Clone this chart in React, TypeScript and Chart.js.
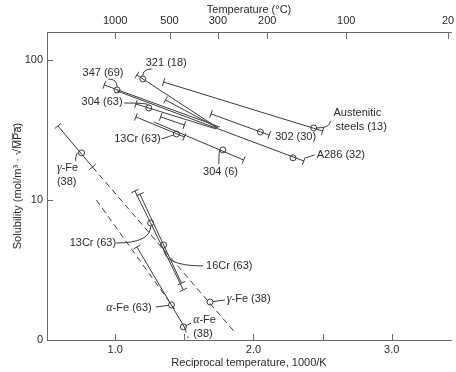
import React, { useEffect, useRef } from "react";
import { Chart, registerables } from "chart.js";

Chart.register(...registerables);

const FONT = "'Liberation Sans', Arial, sans-serif";
const INK = "#3a3a3a";
const AXIS = "#6a6a6a";

// ---------- data (x = reciprocal temperature 1000/K, y = solubility) ----------
const seriesNames = [
  "321 (18)", "Austenitic steels (13)", "347 (69)", "A286 (32)", "304 (63)",
  "304 (63) branch", "302 (30)", "304 (6)", "short range", "13Cr (63)",
  "γ-Fe (38)", "γ-Fe (38) extrapolated", "α-Fe (63)", "α-Fe (38)",
  "α-Fe (38) extrapolated", "13Cr (63) low", "16Cr (63)",
];
const startX = [1.157, 1.35, 0.921, 1.014, 1.15, 1.364, 1.693, 1.279, 1.329, 1.15, 0.586, 0.836, 0.864, 1.157, 1.5, 1.143, 1.179];
const startY = [78.1, 69.6, 66.3, 60.1, 48.5, 51.8, 41.2, 36.1, 39.2, 39.2, 33.8, 17.2, 10.0, 4.62, 1.24, 11.6, 11.0];
const endX = [1.743, 2.5, 1.757, 2.364, 1.729, 1.743, 2.114, 1.929, 1.5, 1.5, 0.836, 1.864, 1.429, 1.5, 1.529, 1.493, 1.479];
const endY = [32.7, 31.1, 33.2, 19.0, 32.2, 32.7, 29.1, 19.3, 34.3, 28.2, 17.2, 1.14, 1.67, 1.24, 1.03, 2.28, 2.55];

const markerX = [1.2, 2.436, 1.014, 1.243, 2.05, 2.286, 1.779, 1.443, 0.757, 1.686, 1.257, 1.35, 1.407, 1.493];
const markerY = [73.2, 32.7, 61.1, 45.4, 30.6, 20.0, 22.8, 29.6, 21.7, 1.87, 6.85, 4.77, 1.78, 1.24];

const xTickValues = [1, 1.5, 2, 2.5, 3];
const xTickLabels = ["1.0", "", "2.0", "", "3.0"];
const tempTickValues = [1.0, 1.393, 1.743, 2.1, 2.671, 3.407];
const tempTickLabels = ["1000", "500", "300", "200", "100", "20"];
const yTickValues = [1, 10, 100];
const yTickLabels = ["0", "10", "100"];

// ---------- styles ----------
const dashed = [false, false, false, false, false, false, false, false, false, false, false, true, true, false, true, false, false];
const capStart = [true, true, true, false, true, true, true, false, true, true, true, false, false, true, false, true, true];
const capEnd = [false, true, false, true, false, false, true, true, true, true, true, false, false, false, false, true, true];

// ---------- annotations (positions in data units) ----------
const labelLines = [
  ["321 (18)"], ["347 (69)"], ["304 (63)"], ["13Cr (63)"], ["304 (6)"], ["302 (30)"],
  ["A286 (32)"], ["Austenitic", "steels (13)"], ["γ-Fe", "(38)"], ["13Cr (63)"],
  ["16Cr (63)"], ["α-Fe (63)"], ["α-Fe", "(38)"], ["γ-Fe (38)"],
];
const labelX = [1.221, 0.764, 0.757, 0.993, 1.636, 2.157, 2.457, 2.579, 0.579, 0.671, 1.657, 0.936, 1.564, 1.807];
const labelY = [95.2, 80.8, 50.1, 27.3, 15.85, 28.2, 20.97, 41.8, 16.9, 4.93, 3.38, 1.693, 1.39, 1.96];

const leaderX1 = [1.264, 0.95, 1.064, 1.336, 1.75, 2.443, 2.557, 0.714, 1.007, 1.636, 1.293, 1.55, 1.793];
const leaderY1 = [86.3, 73.2, 49.3, 27.3, 18.1, 21.0, 36.7, 19.0, 4.93, 3.38, 1.72, 1.32, 1.93];
const leaderX2 = [1.2, 1.014, 1.243, 1.443, 1.779, 2.379, 2.436, 0.757, 1.257, 1.35, 1.407, 1.493, 1.686];
const leaderY2 = [73.2, 61.1, 45.4, 29.6, 22.8, 20.0, 32.7, 21.7, 6.85, 4.77, 1.78, 1.24, 1.87];
const leaderBend = [0, 0, 0, 2, 1, 2, 1, 1, 0, 0, 2, 2, 2];
const leaderToMarker = [true, true, true, true, true, false, true, true, true, true, true, true, true];

const overlay = {
  id: "overlay",
  afterDatasetsDraw(chart: any) {
    const { ctx, chartArea, scales } = chart;
    const px = (v: number) => scales.x.getPixelForValue(v);
    const py = (v: number) => scales.y.getPixelForValue(v);
    ctx.save();
    ctx.strokeStyle = INK;
    ctx.lineWidth = 1;
    ctx.setLineDash([]);

    // end caps
    for (let i = 0; i < startX.length; i++) {
      const x1 = px(startX[i]), y1 = py(startY[i]), x2 = px(endX[i]), y2 = py(endY[i]);
      const L = Math.hypot(x2 - x1, y2 - y1) || 1;
      const nx = -(y2 - y1) / L, ny = (x2 - x1) / L;
      const h = 4;
      ctx.beginPath();
      if (capStart[i]) { ctx.moveTo(x1 - nx * h, y1 - ny * h); ctx.lineTo(x1 + nx * h, y1 + ny * h); }
      if (capEnd[i]) { ctx.moveTo(x2 - nx * h, y2 - ny * h); ctx.lineTo(x2 + nx * h, y2 + ny * h); }
      ctx.stroke();
    }

    // inward tick marks
    ctx.strokeStyle = AXIS;
    ctx.beginPath();
    xTickValues.forEach((v) => { const x = Math.round(px(v)) + 0.5; ctx.moveTo(x, chartArea.bottom); ctx.lineTo(x, chartArea.bottom - 6); });
    tempTickValues.forEach((v) => { const x = Math.round(px(v)) + 0.5; ctx.moveTo(x, chartArea.top); ctx.lineTo(x, chartArea.top + 7); });
    yTickValues.forEach((v) => { const y = Math.round(py(v)) + 0.5; ctx.moveTo(chartArea.left, y); ctx.lineTo(chartArea.left + 6, y); });
    ctx.stroke();

    // leaders
    ctx.strokeStyle = INK;
    for (let i = 0; i < leaderX1.length; i++) {
      const ax = px(leaderX1[i]), ay = py(leaderY1[i]);
      let bx = px(leaderX2[i]), by = py(leaderY2[i]);
      let cx = bx, cy = ay;
      if (leaderBend[i] === 1) { cx = ax; cy = by; }
      if (leaderBend[i] === 2) { cx = (ax + bx) / 2; cy = (ay + by) / 2; }
      if (leaderToMarker[i]) {
        const L = Math.hypot(bx - cx, by - cy) || 1;
        bx -= ((bx - cx) / L) * 3;
        by -= ((by - cy) / L) * 3;
      }
      ctx.beginPath();
      ctx.moveTo(ax, ay);
      ctx.quadraticCurveTo(cx, cy, bx, by);
      ctx.stroke();
    }

    // labels
    ctx.fillStyle = "#2a2a2a";
    ctx.textBaseline = "middle";
    ctx.textAlign = "left";
    labelLines.forEach((lines, i) => {
      const x0 = px(labelX[i]);
      const y0 = py(labelY[i]);
      lines.forEach((t, k) => {
        const y = y0 + k * 13.5;
        let x = x0 + (k > 0 && lines[0].length > 5 ? 2 : 0);
        if (t.startsWith("α") || t.startsWith("γ")) {
          ctx.font = "italic 12px 'Liberation Serif', serif";
          ctx.fillText(t[0], x, y);
          x += ctx.measureText(t[0]).width;
          ctx.font = `11px ${FONT}`;
          ctx.fillText(t.slice(1), x, y);
        } else {
          ctx.font = `11px ${FONT}`;
          ctx.fillText(t, x, y);
        }
      });
    });
    ctx.restore();
  },
};

const noPad = (s: any) => {
  s.paddingLeft = 0;
  s.paddingRight = 0;
  s.paddingTop = 0;
  s.paddingBottom = 0;
};

export default function App() {
  const ref = useRef<HTMLCanvasElement>(null);
  useEffect(() => {
    if (!ref.current) return;
    const datasets: any[] = [
      {
        label: "markers",
        data: markerX.map((x, i) => ({ x, y: markerY[i] })),
        showLine: false,
        pointStyle: "circle",
        pointRadius: 3,
        pointBorderWidth: 1,
        pointBorderColor: INK,
        pointBackgroundColor: "rgba(255,255,255,0)",
      },
      ...seriesNames.map((name, i) => ({
        label: name,
        data: [
          { x: startX[i], y: startY[i] },
          { x: endX[i], y: endY[i] },
        ],
        showLine: true,
        borderColor: INK,
        borderWidth: 1,
        borderDash: dashed[i] ? [6, 4] : [],
        pointRadius: 0,
      })),
    ];
    const tickFont = { family: FONT, size: 11 };
    const chart = new Chart(ref.current, {
      type: "scatter",
      data: { datasets },
      options: {
        responsive: false,
        animation: false,
        devicePixelRatio: 1,
        layout: { padding: 0 },
        plugins: { legend: { display: false }, tooltip: { enabled: false } },
        scales: {
          x: {
            type: "linear",
            position: "bottom",
            min: 0.507,
            max: 3.4286,
            afterFit: (s: any) => { s.height = 32; noPad(s); },
            afterBuildTicks: (s: any) => { s.ticks = xTickValues.map((v) => ({ value: v })); },
            ticks: {
              autoSkip: false,
              maxRotation: 0,
              padding: 3,
              color: "#2a2a2a",
              font: tickFont,
              callback: (_v: any, i: number) => xTickLabels[i],
            },
            grid: { display: true, drawOnChartArea: false, drawTicks: false },
            border: { display: true, color: AXIS },
            title: {
              display: true,
              text: "Reciprocal temperature, 1000/K",
              color: "#2a2a2a",
              font: tickFont,
              padding: { top: 0, bottom: 2 },
            },
          },
          x2: {
            type: "linear",
            position: "top",
            min: 0.507,
            max: 3.4286,
            afterFit: (s: any) => { s.height = 32; noPad(s); },
            afterBuildTicks: (s: any) => { s.ticks = tempTickValues.map((v) => ({ value: v })); },
            ticks: {
              autoSkip: false,
              maxRotation: 0,
              padding: 4,
              color: "#2a2a2a",
              font: tickFont,
              callback: (_v: any, i: number) => tempTickLabels[i],
            },
            grid: { display: true, drawOnChartArea: false, drawTicks: false },
            border: { display: true, color: AXIS },
            title: {
              display: true,
              text: "Temperature (°C)",
              color: "#2a2a2a",
              font: tickFont,
              padding: { top: 3, bottom: 0 },
            },
          },
          y: {
            type: "logarithmic",
            position: "left",
            min: 1,
            max: 158.5,
            afterFit: (s: any) => { s.width = 47; noPad(s); },
            afterBuildTicks: (s: any) => { s.ticks = yTickValues.map((v) => ({ value: v })); },
            ticks: {
              autoSkip: false,
              padding: 4,
              color: "#2a2a2a",
              font: tickFont,
              callback: (_v: any, i: number) => yTickLabels[i],
            },
            grid: { display: true, drawOnChartArea: false, drawTicks: false },
            border: { display: true, color: AXIS },
            title: {
              display: true,
              text: "Solubility (mol/m\u00b3 \u00b7 \u221aM\u0305P\u0305a\u0305)",
              color: "#2a2a2a",
              font: tickFont,
              padding: { top: 11, bottom: 0 },
            },
          },
        },
      } as any,
      plugins: [overlay],
    });
    return () => chart.destroy();
  }, []);

  return (
    <div style={{ position: "absolute", left: 0, top: 0, width: 456, height: 372, background: "#fff" }}>
      <canvas ref={ref} width={456} height={372} style={{ width: 456, height: 372, display: "block" }} />
    </div>
  );
}
